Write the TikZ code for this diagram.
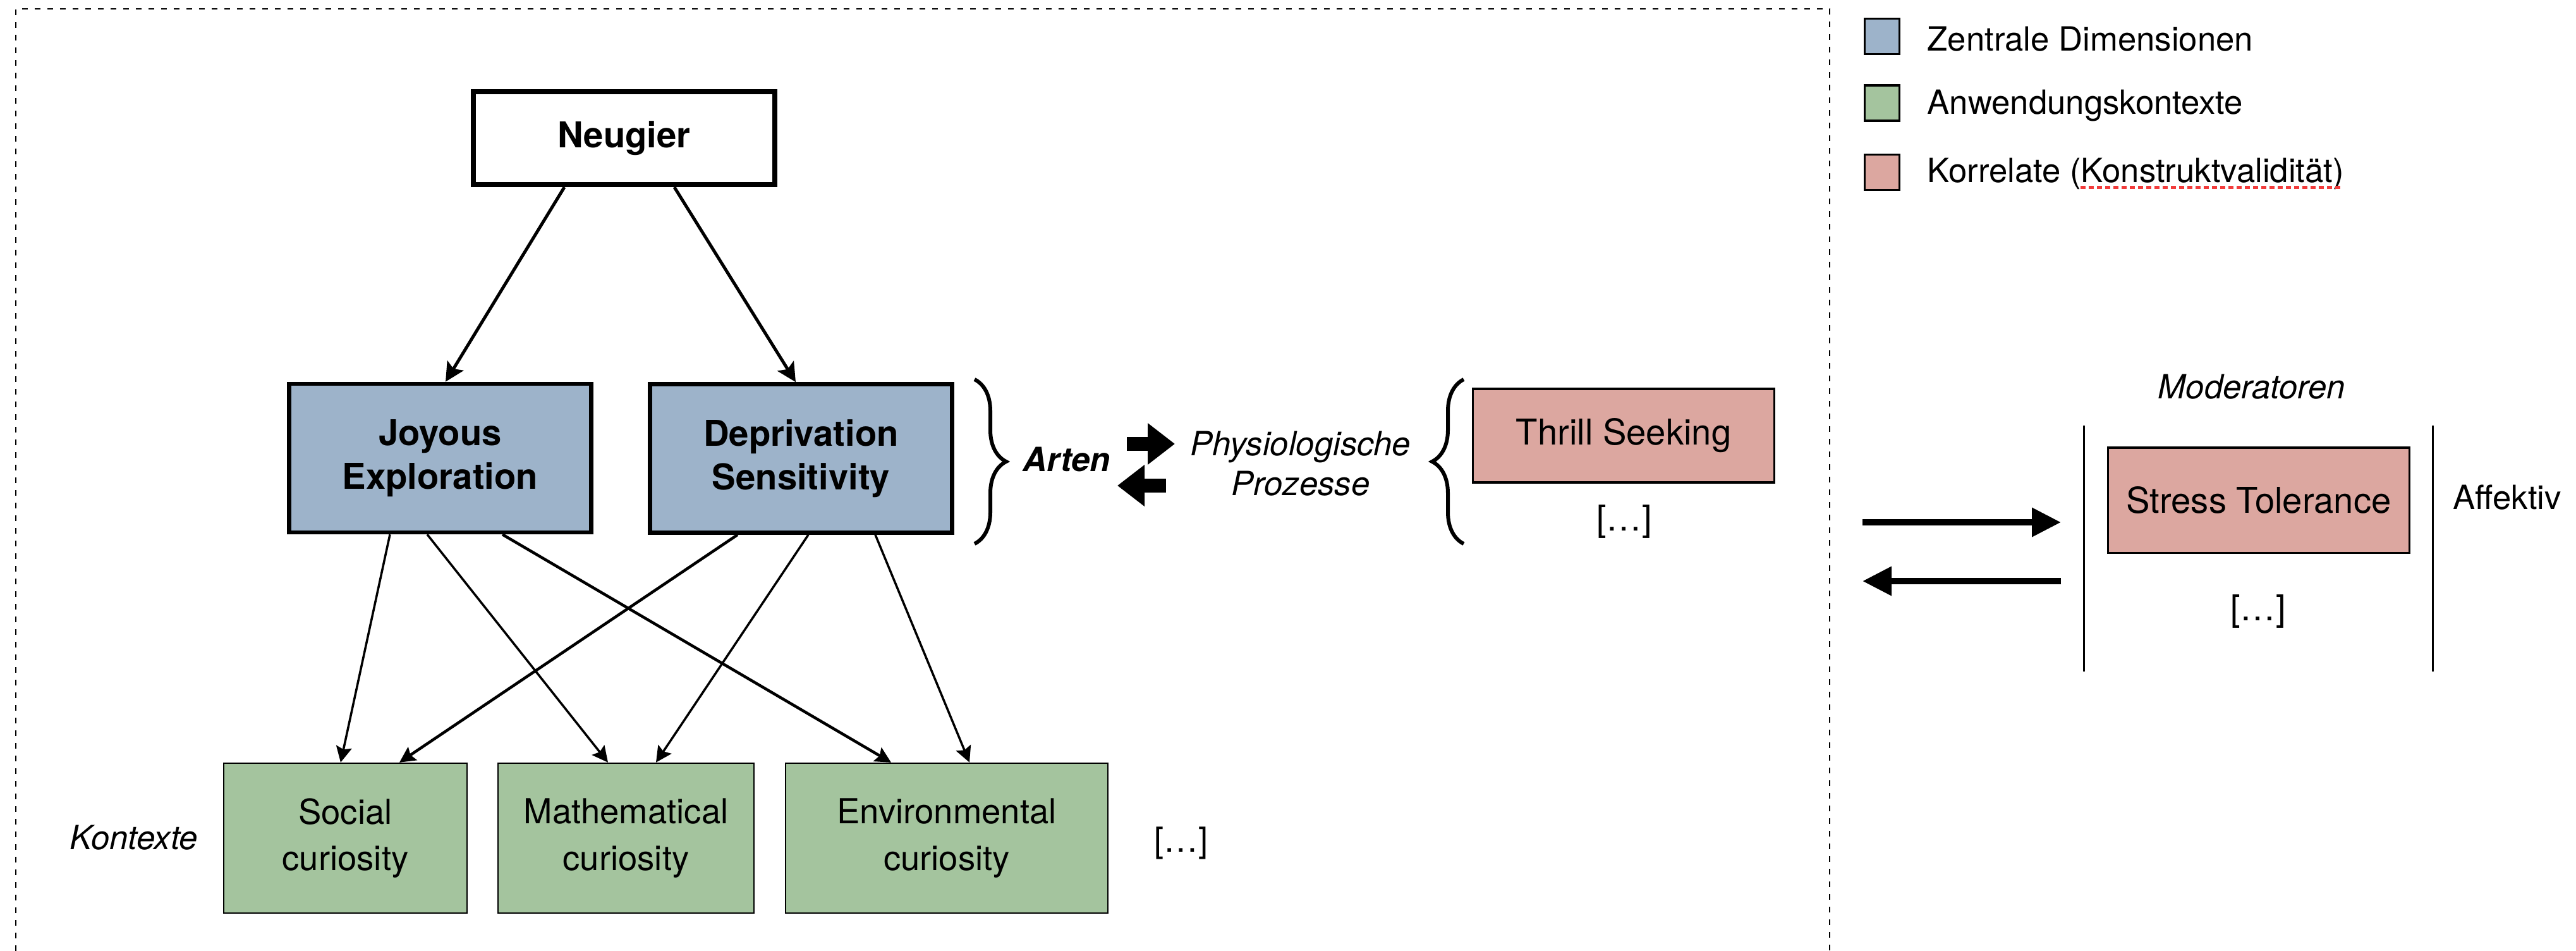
\documentclass[tikz,border=0pt]{standalone}
\usepackage{fontspec}
\setmainfont{TeX Gyre Heros}
\usetikzlibrary{arrows.meta,decorations.pathreplacing}
\definecolor{dimblue}{HTML}{9DB3CA}
\definecolor{ctxgreen}{HTML}{A4C49E}
\definecolor{korrpink}{HTML}{DCA7A0}
\definecolor{spellred}{HTML}{F23B3B}

\begin{document}
\begin{tikzpicture}[
  every node/.style={align=center, font=\fontsize{16}{19.5}\selectfont},
  topbox/.style={draw, line width=0.08cm, minimum width=4.77cm, minimum height=1.47cm, font=\fontsize{16}{19.5}\selectfont\bfseries},
  dimbox/.style={draw, line width=0.065cm, fill=dimblue, minimum width=4.78cm, minimum height=2.35cm, font=\fontsize{16}{19.5}\selectfont\bfseries},
  ctxbox/.style={draw, line width=0.025cm, fill=ctxgreen, minimum height=2.37cm, font=\fontsize{15.5}{21}\selectfont},
  korrbox/.style={draw, line width=0.035cm, fill=korrpink, minimum width=4.77cm},
  legbox/.style={draw, line width=0.035cm, minimum width=0.55cm, minimum height=0.56cm},
  legtext/.style={anchor=base west, inner sep=0pt, font=\fontsize{15}{18}\selectfont},
  note/.style={font=\fontsize{15}{18}\selectfont\itshape},
  toparrow/.style={line width=0.05cm, -{Stealth[length=0.3cm,width=0.3cm,inset=0.06cm]}},
  subarrow/.style={line width=0.035cm, -{Stealth[length=0.25cm,width=0.25cm,inset=0.04cm]}},
  blockarrow/.style={line width=0.22cm, -{Triangle[length=0.43cm,width=0.63cm]}},
  bigarrow/.style={line width=0.1cm, -{Triangle[length=0.46cm,width=0.44cm]}},
  bracebig/.style={decorate, decoration={brace, amplitude=0.5cm}, line width=0.06cm},
  frameline/.style={line width=0.025cm, dash pattern=on 0.09cm off 0.11cm},
  modline/.style={line width=0.03cm}
]
  \useasboundingbox (0,0) rectangle (40.76,-15.04);
  \draw[frameline] (0.25,-15.04) |- (28.95,-0.14) -- (28.95,-15.04);

  \node (neugier) at (9.875,-2.185) [topbox] {Neugier};
  \node (joyous) at (6.965,-7.245) [dimbox] {Joyous\\Exploration};
  \node (depriv) at (12.675,-7.25) [dimbox] {Deprivation\\Sensitivity};

  \node (social) at (5.465,-13.255) [ctxbox, minimum width=3.85cm] {Social\\curiosity};
  \node (math) at (9.905,-13.255) [ctxbox, minimum width=4.05cm] {Mathematical\\curiosity};
  \node (env) at (14.98,-13.255) [ctxbox, minimum width=5.1cm] {Environmental\\curiosity};
  \node (kontexte) at (2.12,-13.25) [note] {Kontexte};
  \node (ctxmore) at (18.69,-13.33) [font=\fontsize{15.5}{18}\selectfont] {[…]};

  \draw[toparrow] ([xshift=-0.945cm]neugier.south) to ([xshift=0.085cm]joyous.north);
  \draw[toparrow] ([xshift=0.795cm]neugier.south) to ([xshift=-0.085cm]depriv.north);

  \draw[subarrow] ([xshift=-0.795cm]joyous.south) to ([xshift=-0.075cm]social.north);
  \draw[subarrow] ([xshift=-0.205cm]joyous.south) to ([xshift=-0.285cm]math.north);
  \draw[subarrow, line width=0.045cm] ([xshift=0.985cm]joyous.south) to ([xshift=-0.88cm]env.north);
  \draw[subarrow, line width=0.045cm] ([xshift=-1.005cm]depriv.south) to ([xshift=0.855cm]social.north);
  \draw[subarrow] ([xshift=0.115cm]depriv.south) to ([xshift=0.475cm]math.north);
  \draw[subarrow] ([xshift=1.175cm]depriv.south) to ([xshift=0.36cm]env.north);

  \draw[bracebig] (15.42,-6.0) -- (15.42,-8.6);
  \node (arten) at (16.88,-7.27) [note, font=\fontsize{15}{18}\selectfont\bfseries\itshape] {Arten};
  \coordinate (artout) at (17.83,-7.02);
  \coordinate (physin) at (18.59,-7.02);
  \coordinate (physout) at (18.45,-7.68);
  \coordinate (artin) at (17.68,-7.68);
  \draw[blockarrow] (artout) to (physin);
  \draw[blockarrow] (physout) to (artin);
  \node (physio) at (20.58,-7.33) [note, font=\fontsize{15}{18}\selectfont\itshape] {Physiologische\\Prozesse};
  \draw[bracebig] (23.16,-8.6) -- (23.16,-6.0);

  \node (thrill) at (25.69,-6.89) [korrbox, minimum height=1.48cm] {Thrill Seeking};
  \node (thrillmore) at (25.70,-8.25) {[…]};

  \node (legdim) at (29.78,-0.575) [legbox, fill=dimblue] {};
  \node (legctx) at (29.78,-1.63) [legbox, fill=ctxgreen] {};
  \node (legkor) at (29.78,-2.725) [legbox, fill=korrpink] {};
  \node (legdimtxt) at (30.49,-0.80) [legtext] {Zentrale Dimensionen};
  \node (legctxtxt) at (30.49,-1.80) [legtext] {Anwendungskontexte};
  \node (legkortxt) at (30.49,-2.88) [legtext] {Korrelate (Konstruktvalidität)};
  \draw[spellred, line width=0.05cm, dash pattern=on 0.08cm off 0.05cm]
    ([xshift=2.43cm,yshift=-0.08cm]legkortxt.base west) -- ([xshift=6.55cm,yshift=-0.08cm]legkortxt.base west);

  \node (moder) at (35.63,-6.12) [note] {Moderatoren};
  \draw[modline] (32.97,-6.73) -- (32.97,-10.62);
  \draw[modline] (38.49,-6.73) -- (38.49,-10.62);
  \node (stress) at (35.74,-7.91) [korrbox, minimum height=1.665cm] {Stress Tolerance};
  \node (stressmore) at (35.73,-9.67) {[…]};
  \node (affektiv) at (39.67,-7.87) [font=\fontsize{15}{18}\selectfont] {Affektiv};
  \coordinate (modin1) at (29.47,-8.26);
  \coordinate (modin2) at (32.61,-8.26);
  \coordinate (modout1) at (32.61,-9.19);
  \coordinate (modout2) at (29.47,-9.19);
  \draw[bigarrow] (modin1) to (modin2);
  \draw[bigarrow] (modout1) to (modout2);
\end{tikzpicture}
\end{document}
